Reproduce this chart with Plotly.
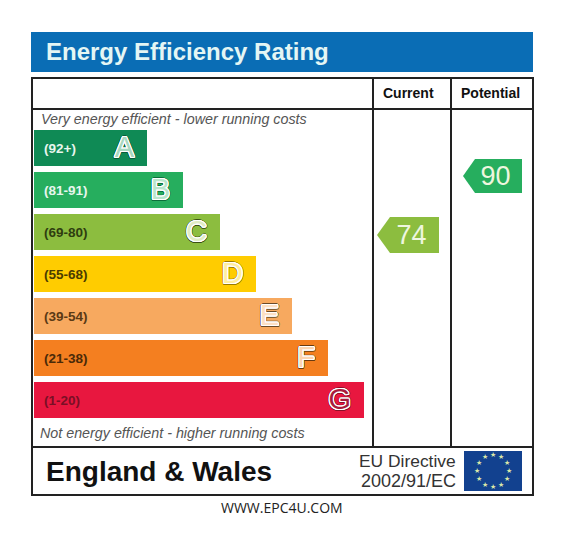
import math
import plotly.graph_objects as go

W, H = 565, 550

bands = ["A", "B", "C", "D", "E", "F", "G"]
ranges = ["(92+)", "(81-91)", "(69-80)", "(55-68)", "(39-54)", "(21-38)", "(1-20)"]
bar_lengths = [113, 149, 186, 222, 258, 294, 330]
bar_colors = ["#0f8a55", "#26ae5e", "#8cbd3f", "#ffcc00", "#f7a95f", "#f47f20", "#e8173f"]
range_colors = ["#e8f6ee", "#e8f6ee", "#2f3d10", "#4a3c00", "#5a3a15", "#4a2a08", "#7a0f25"]
letter_fills = ["#a8d8c0", "#b8e6cc", "#e0ecc4", "#ffeea0", "#fde0c4", "#fcd4b0", "#a81c3c"]
letter_edges = ["#0a5c38", "#0c6e3a", "#3a5015", "#9a7b00", "#6a4a28", "#6a3a10", "#8a1028"]

columns = ["Current", "Potential"]
ratings = [74, 90]
rating_colors = ["#8cbd3f", "#26ae5e"]


def px(x):
    return x / W


def py(y):
    return 1 - y / H


fig = go.Figure()

fig.add_trace(go.Bar(
    y=bands, x=bar_lengths, orientation="h", width=0.86,
    marker=dict(color=bar_colors, line=dict(width=0)),
    xaxis="x", yaxis="y", hoverinfo="skip", showlegend=False,
))

fig.add_trace(go.Scatter(
    y=bands, x=[10] * 7, mode="text", text=ranges, textposition="middle right",
    textfont=dict(family="Liberation Sans", size=13.5, color=range_colors, weight="bold"),
    xaxis="x", yaxis="y3", hoverinfo="skip", showlegend=False,
))


def ring(radius, color):
    return [f"{radius*math.cos(a*math.pi/8):.2f}px {radius*math.sin(a*math.pi/8):.2f}px 0 {color}" for a in range(16)]


for band, length, fill, edge in zip(bands, bar_lengths, letter_fills, letter_edges):
    fig.add_trace(go.Scatter(
        y=[band], x=[length - 13], mode="text", text=[band], textposition="middle left",
        textfont=dict(family="Liberation Sans", size=29, color=fill,
                      shadow=",".join(ring(1.1, "#ffffff") + ring(1.8, edge))),
        xaxis="x", yaxis="y3", hoverinfo="skip", showlegend=False,
    ))

slots = {"Current": (377, 390, 439, 18), "Potential": (463, 475, 522, 17)}
per_point = 3.6875
for c, r, col in zip(columns, ratings, rating_colors):
    tip, shoulder, right, half = slots[c]
    d = half / per_point
    fig.add_trace(go.Scatter(
        x=[tip, shoulder, right, right, shoulder, tip],
        y=[r, r + d, r + d, r - d, r - d, r],
        mode="lines", fill="toself", fillcolor=col, line=dict(width=0, color=col),
        xaxis="x2", yaxis="y2", hoverinfo="skip", showlegend=False,
    ))
    fig.add_trace(go.Scatter(
        x=[(shoulder + right) / 2 - 3], y=[r], mode="text", text=[str(r)],
        textposition="middle center",
        textfont=dict(family="Liberation Sans", size=27, color="#eef6df"),
        xaxis="x2", yaxis="y4", hoverinfo="skip", showlegend=False,
    ))

INK = "#222222"


def rect(x0, y0, x1, y1, fill="rgba(0,0,0,0)", lw=0, color=INK, layer="below"):
    return dict(type="rect", xref="paper", yref="paper", x0=px(x0), x1=px(x1), y0=py(y0), y1=py(y1),
                fillcolor=fill, line=dict(width=lw, color=color), layer=layer)


def line(x0, y0, x1, y1, lw=2):
    return dict(type="line", xref="paper", yref="paper", x0=px(x0), x1=px(x1), y0=py(y0), y1=py(y1),
                line=dict(width=lw, color=INK), layer="above")


shapes = [
    rect(31, 32, 533, 72, fill="#0a6db5"),
    rect(32, 78, 533, 495, lw=2, layer="above"),
    line(32, 109, 533, 109),
    line(32, 447, 533, 447),
    line(373, 78, 373, 447),
    line(451, 78, 451, 447),
    rect(464, 451, 522, 491, fill="#12418f"),
]


def label(x, y, text, size, color="#111111", bold=False, italic=False, anchor="left", family="Liberation Sans"):
    return dict(xref="paper", yref="paper", x=px(x), y=py(y), text=text, showarrow=False,
                xanchor=anchor, yanchor="middle", borderpad=0, borderwidth=0,
                font=dict(family=family, size=size, color=color, weight="bold" if bold else "normal",
                          style="italic" if italic else "normal"))


annotations = [
    label(46, 52, "Energy Efficiency Rating", 24, color="#e4f6f4", bold=True),
    label(409, 93, "Current", 14, bold=True, anchor="center"),
    label(490.5, 93, "Potential", 14, bold=True, anchor="center"),
    label(41, 119, "Very energy efficient - lower running costs", 14.3, color="#555555", italic=True),
    label(40, 433, "Not energy efficient - higher running costs", 14.3, color="#555555", italic=True),
    label(46, 471, "England &amp; Wales", 28, bold=True),
    label(456, 461, "EU Directive", 17.4, color="#333333", anchor="right"),
    label(456, 481, "2002/91/EC", 18, color="#333333", anchor="right"),
    label(281.5, 507, "WWW.EPC4U.COM", 14, anchor="center", family="Open Sans", color="#222222"),
]

for i in range(12):
    a = i * math.pi / 6
    annotations.append(dict(
        xref="paper", yref="paper",
        x=px(493 + 16 * math.sin(a)), y=py(471 - 16 * math.cos(a)),
        text="★", showarrow=False, xanchor="center", yanchor="middle", borderpad=0, borderwidth=0,
        font=dict(family="DejaVu Sans", size=7, color="#d8e8a8"),
    ))

TEXT_DROP = 2.0  # Plotly sets scatter text slightly high; these twin axes sit lower by this many pixels

fig.update_layout(
    width=W, height=H, autosize=False,
    margin=dict(l=0, r=0, t=0, b=0),
    paper_bgcolor="#ffffff", plot_bgcolor="rgba(0,0,0,0)",
    shapes=shapes, annotations=annotations,
    bargap=0,
    xaxis=dict(domain=[px(34), px(364)], range=[0, 330], visible=False, fixedrange=True),
    yaxis=dict(domain=[py(421), py(127)], range=[6.5, -0.5], type="category", categoryorder="array",
               categoryarray=bands, visible=False, fixedrange=True),
    yaxis3=dict(domain=[py(421 + TEXT_DROP), py(127 + TEXT_DROP)], range=[6.5, -0.5], type="category",
                categoryorder="array", categoryarray=bands, visible=False, anchor="x", fixedrange=True),
    xaxis2=dict(domain=[0, 1], range=[0, W], visible=False, anchor="y2", fixedrange=True),
    yaxis2=dict(domain=[0, 1], range=[90 - (H - 176) / per_point, 90 + 176 / per_point], visible=False,
                anchor="x2", fixedrange=True),
    yaxis4=dict(domain=[0, 1 - TEXT_DROP / H],
                range=[90 - (H - 176 - TEXT_DROP) / per_point, 90 + 176 / per_point], visible=False,
                anchor="x2", fixedrange=True),
)

fig.write_html("out.html", config={"displayModeBar": False},
               post_script="document.body.style.margin='0';document.body.style.overflow='hidden';")
